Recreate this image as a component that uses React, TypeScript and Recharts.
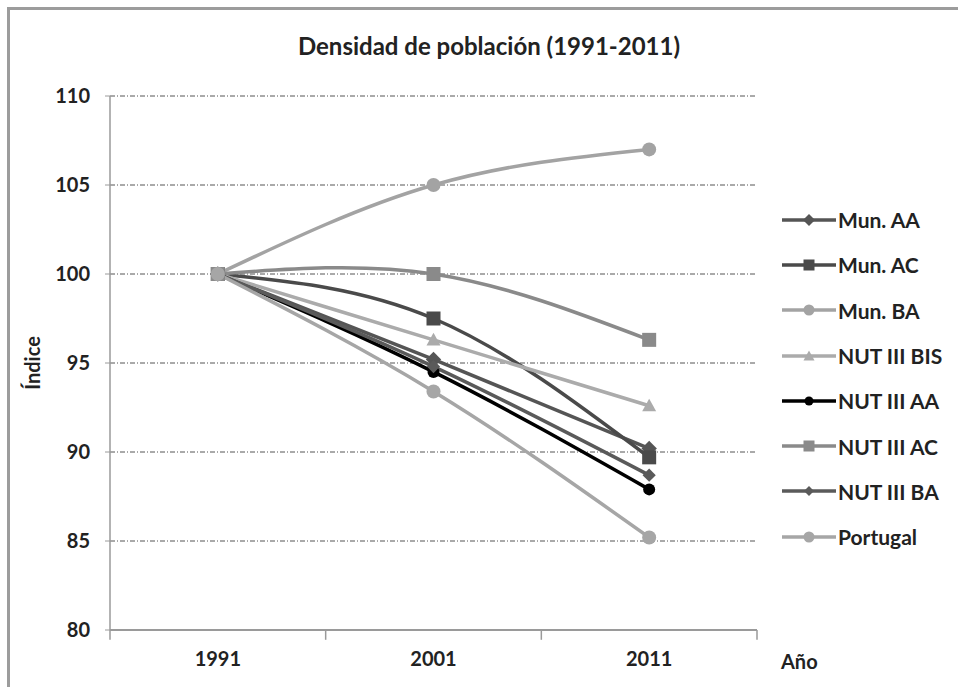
import React from "react";
import {
  LineChart,
  Line,
  XAxis,
  YAxis,
  CartesianGrid,
  ReferenceLine,
} from "recharts";

const YEARS = ["1991", "2001", "2011"];
const X_POS = [0.5, 1.5, 2.5];
const Y_TICKS = [80, 85, 90, 95, 100, 105, 110];

const MUN_AA = [100, 95.2, 90.2];
const MUN_AC = [100, 97.5, 89.7];
const MUN_BA = [100, 105, 107];
const NUT_BIS = [100, 96.3, 92.6];
const NUT_AA = [100, 94.5, 87.9];
const NUT_AC = [100, 100, 96.3];
const NUT_BA = [100, 94.8, 88.7];
const PORTUGAL = [100, 93.4, 85.2];

type Shape = "diamond" | "square" | "circle" | "triangle";

const SERIES: { key: string; name: string; values: number[]; color: string; shape: Shape; size: number }[] = [
  { key: "munAA", name: "Mun. AA", values: MUN_AA, color: "#555555", shape: "diamond", size: 7 },
  { key: "munAC", name: "Mun. AC", values: MUN_AC, color: "#4a4a4a", shape: "square", size: 7 },
  { key: "munBA", name: "Mun. BA", values: MUN_BA, color: "#a3a3a3", shape: "circle", size: 7 },
  { key: "nutBIS", name: "NUT III BIS", values: NUT_BIS, color: "#ababab", shape: "triangle", size: 7 },
  { key: "nutAA", name: "NUT III AA", values: NUT_AA, color: "#000000", shape: "circle", size: 6 },
  { key: "nutAC", name: "NUT III AC", values: NUT_AC, color: "#8a8a8a", shape: "square", size: 7 },
  { key: "nutBA", name: "NUT III BA", values: NUT_BA, color: "#5a5a5a", shape: "diamond", size: 6 },
  { key: "portugal", name: "Portugal", values: PORTUGAL, color: "#a6a6a6", shape: "circle", size: 7 },
];

const data = YEARS.map((year, i) => {
  const row: Record<string, number | string> = { year, x: X_POS[i] };
  SERIES.forEach((s) => {
    row[s.key] = s.values[i];
  });
  return row;
});

const FONT = "Lato, 'Open Sans', sans-serif";

function Marker({ cx, cy, shape, size, color }: { cx: number; cy: number; shape: Shape; size: number; color: string }) {
  if (cx == null || cy == null) return null;
  if (shape === "square") {
    return <rect x={cx - size} y={cy - size} width={size * 2} height={size * 2} fill={color} />;
  }
  if (shape === "diamond") {
    const r = size * 1.1;
    return <polygon points={`${cx},${cy - r} ${cx + r},${cy} ${cx},${cy + r} ${cx - r},${cy}`} fill={color} />;
  }
  if (shape === "triangle") {
    const r = size;
    return <polygon points={`${cx},${cy - r} ${cx + r},${cy + r * 0.8} ${cx - r},${cy + r * 0.8}`} fill={color} />;
  }
  return <circle cx={cx} cy={cy} r={size} fill={color} />;
}

function LegendBox() {
  return (
    <div
      style={{
        position: "absolute",
        left: 782,
        top: 197,
        fontFamily: FONT,
        fontWeight: 700,
        fontSize: 21,
        color: "#222",
      }}
    >
      {SERIES.map((s) => (
        <div key={s.key} style={{ display: "flex", alignItems: "center", height: 45.3, whiteSpace: "nowrap" }}>
          <svg width={54} height={20} style={{ marginRight: 2 }}>
            <line x1={0} y1={10} x2={54} y2={10} stroke={s.color} strokeWidth={3.5} />
            <Marker cx={27} cy={10} shape={s.shape} size={s.size - 1.5} color={s.color} />
          </svg>
          <span>{s.name}</span>
        </div>
      ))}
    </div>
  );
}

const tickStyle = { fill: "#222", fontSize: 20, fontWeight: 700, fontFamily: FONT };

export default function App() {
  return (
    <div
      style={{
        position: "absolute",
        left: 0,
        top: 0,
        width: 958,
        height: 687,
        background: "#fff",
        overflow: "hidden",
        fontFamily: FONT,
      }}
    >
      <div
        style={{
          position: "absolute",
          left: 7,
          top: 7,
          width: 1000,
          height: 720,
          borderTop: "3px solid #9c9c9c",
          borderLeft: "3px solid #9c9c9c",
        }}
      />
      <LineChart
        width={958}
        height={687}
        data={data}
        margin={{ top: 96, right: 201, bottom: 17, left: 0 }}
        style={{ position: "absolute", left: 0, top: 0 }}
      >
        <CartesianGrid
          horizontal
          vertical={false}
          stroke="#555"
          strokeDasharray="5 2 1 2"
          strokeWidth={1}
        />
        <XAxis
          type="number"
          dataKey="x"
          domain={[0, 3]}
          ticks={X_POS}
          tickFormatter={(v: number) => YEARS[X_POS.indexOf(v)] ?? ""}
          tickLine={false}
          tickSize={0}
          tickMargin={22}
          height={40}
          axisLine={{ stroke: "#9a9a9a", strokeWidth: 2 }}
          tick={tickStyle}
        />
        <YAxis
          domain={[80, 110]}
          ticks={Y_TICKS}
          width={110}
          interval={0}
          tickSize={5}
          tickMargin={15}
          axisLine={{ stroke: "#9a9a9a", strokeWidth: 1.5 }}
          tickLine={{ stroke: "#9a9a9a" }}
          tick={tickStyle}
        />
        {[0, 1, 2, 3].map((b) => (
          <ReferenceLine
            key={b}
            segment={[
              { x: b, y: 80 },
              { x: b, y: 79.45 },
            ]}
            stroke="#9a9a9a"
            strokeWidth={1.5}
            ifOverflow="visible"
          />
        ))}
        {SERIES.map((s) => (
          <Line
            key={s.key}
            dataKey={s.key}
            name={s.name}
            type="natural"
            stroke={s.color}
            strokeWidth={3.5}
            isAnimationActive={false}
            dot={(p: any) => (
              <Marker key={`${s.key}-${p.index}`} cx={p.cx} cy={p.cy} shape={s.shape} size={s.size} color={s.color} />
            )}
            activeDot={false}
          />
        ))}
      </LineChart>
      <div
        style={{
          position: "absolute",
          top: 31,
          left: 0,
          width: 978,
          textAlign: "center",
          fontSize: 24,
          fontWeight: 700,
          color: "#222",
        }}
      >
        Densidad de población (1991-2011)
      </div>
      <div
        style={{
          position: "absolute",
          left: 32,
          top: 363,
          transform: "translate(-50%, -50%) rotate(-90deg)",
          fontSize: 20,
          fontWeight: 700,
          color: "#222",
        }}
      >
        Índice
      </div>
      <div
        style={{
          position: "absolute",
          left: 781,
          top: 649,
          fontSize: 20,
          fontWeight: 700,
          color: "#222",
        }}
      >
        Año
      </div>
      <LegendBox />
    </div>
  );
}
